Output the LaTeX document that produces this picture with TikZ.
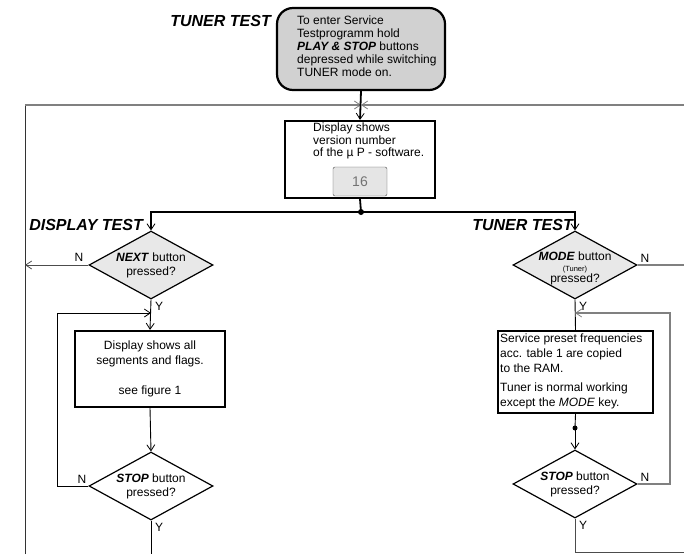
\documentclass[tikz,border=0pt]{standalone}
\usepackage{fontspec}
\setmainfont{Liberation Sans}
\usetikzlibrary{arrows.meta,shapes.geometric}

\tikzset{
  flow/.style={line width=1.8pt},
  link/.style={line width=0.9pt},
  greyline/.style={line width=1.3pt, color=black!50},
  arr/.style={-{Straight Barb[length=6pt,width=8pt,line width=0.8pt]}},
  procbox/.style={draw, line width=2.2pt, inner sep=0pt},
  query/.style={draw, diamond, line width=1.2pt, minimum width=124pt, minimum height=68pt, inner sep=0pt},
  heading/.style={font=\fontsize{16}{18}\selectfont\bfseries\itshape, inner sep=0pt},
}

\begin{document}
\begin{tikzpicture}[x=1pt, y=-1pt, every node/.style={font=\fontsize{12}{14}\selectfont}]
  %%%%% START %%%%%
  \useasboundingbox (0,0) rectangle (684,554);

  % entry
  \node[heading, anchor=east] (tunerhead) at (271,21) {TUNER TEST};
  \node[procbox, rounded corners=16pt, fill=black!18, minimum width=168pt, minimum height=82pt] (enter) at (361,49) {};
  \node[anchor=west, align=left, inner sep=0pt, font=\fontsize{12}{13}\selectfont] (entertxt) at (297,46)
    {To enter Service\\Testprogramm hold\\\textbf{\textit{PLAY \& STOP}} buttons\\depressed while switching\\TUNER mode on.};

  \coordinate (join) at (361,105);
  \coordinate (leftcorner) at (25,105);
  \coordinate (leftend) at (25,554);
  \coordinate (rightend) at (684,105);

  % version
  \node[procbox, minimum width=150pt, minimum height=77pt] (version) at (360,159.5) {};
  \node[anchor=north west, align=left, inner sep=0pt, font=\fontsize{12}{12.5}\selectfont] (versiontxt) at (313,123)
    {Display shows\\version number\\of the µ P - software.};
  \node[draw=black!70, fill=black!10, rounded corners=2pt, minimum width=54pt, minimum height=29pt,
        text=black!55, font=\fontsize{14}{14}\selectfont] (lcd) at (360,181.5) {16};

  \coordinate (split) at (361,212);

  % display test
  \node[heading, anchor=east] (displayhead) at (143,225) {DISPLAY TEST};
  \node[query, fill=black!9] (next) at (151,265) {};
  \node[align=center] (nexttxt) at (next.center) {\textbf{\textit{NEXT}} button\\pressed?};
  \coordinate (nextend) at (25,265);
  \node[procbox, minimum width=150pt, minimum height=76pt] (segments) at (150,369) {};
  \node[align=center, font=\fontsize{12}{15}\selectfont] (segtxt) at (segments.center)
    {Display shows all\\segments and flags.\\[15pt]see figure 1};
  \node[query] (stopA) at (151,486) {};
  \node[align=center] (stopAtxt) at (stopA.center) {\textbf{\textit{STOP}} button\\pressed?};
  \coordinate (loopA) at (57,313);
  \coordinate (loopinA) at (151,313);
  \coordinate (bottomA) at (151,554);

  % tuner test
  \node[heading, anchor=east] (tunertesthead) at (573,225) {TUNER TEST};
  \node[query, fill=black!9] (mode) at (575,265) {};
  \node[align=center, font=\fontsize{12}{12}\selectfont] (modetxt) at (575,268)
    {\textbf{\textit{MODE}} button\\[-1pt]{\fontsize{7.5}{8}\selectfont (Tuner)}\\[-1pt]pressed?};
  \coordinate (modeend) at (684,265);
  \node[procbox, minimum width=155pt, minimum height=82pt] (preset) at (575.5,372) {};
  \node[anchor=west, align=left, inner sep=0pt, font=\fontsize{12}{15}\selectfont] (presettxt) at (500,371)
    {Service preset frequencies\\acc. table 1 are copied\\to the RAM.\\[4pt]Tuner is normal working\\except the \textit{MODE} key.};
  \coordinate (tap) at (575,428);
  \node[query] (stopB) at (575,484) {};
  \node[align=center] (stopBtxt) at (stopB.center) {\textbf{\textit{STOP}} button\\pressed?};
  \coordinate (loopB) at (670,313);
  \coordinate (loopinB) at (575,313);
  \coordinate (bottomB) at (684,552);

  % labels
  \node (nextN) at (79,257) {N};
  \node (nextY) at (159,306) {Y};
  \node (stopAN) at (82,479) {N};
  \node (stopAY) at (159,527) {Y};
  \node (modeN) at (645,258) {N};
  \node (modeY) at (583,306) {Y};
  \node (stopBN) at (645,477) {N};
  \node (stopBY) at (583,525) {Y};

  % connectors
  \draw[link, black!80] (leftend) -- (leftcorner);
  \draw[greyline, arr] (leftcorner) -- (join);
  \draw[greyline, arr] (rightend) -- (join);
  \draw[flow, arr] (enter.south) -- (version.north);
  \draw[flow] (version.south) -- (split);
  \fill (split) circle (3pt);
  \draw[flow, arr] (split) -| (next.north);
  \draw[flow, arr] (split) -| (mode.north);

  \draw[link, black!70, arr] (next.west) -- (nextend);
  \draw[link, arr] (next.south) -- (segments.north);
  \draw[link, arr] (stopA.west) -| (loopA) -- (loopinA);
  \draw[link, arr] (segments.south) -- (stopA.north);
  \draw[link] (stopA.south) -- (bottomA);

  \draw[greyline] (mode.east) -- (modeend);
  \draw[link] (mode.south) -- (preset.north);
  \draw[greyline, arr] (stopB.east) -| (loopB) -- (loopinB);
  \draw[link] (preset.south) -- (tap);
  \fill (tap) circle (2.5pt);
  \draw[link, arr] (tap) -- (stopB.north);
  \draw[link, black!70] (stopB.south) |- (bottomB);
  %%%%% END %%%%%
\end{tikzpicture}
\end{document}
